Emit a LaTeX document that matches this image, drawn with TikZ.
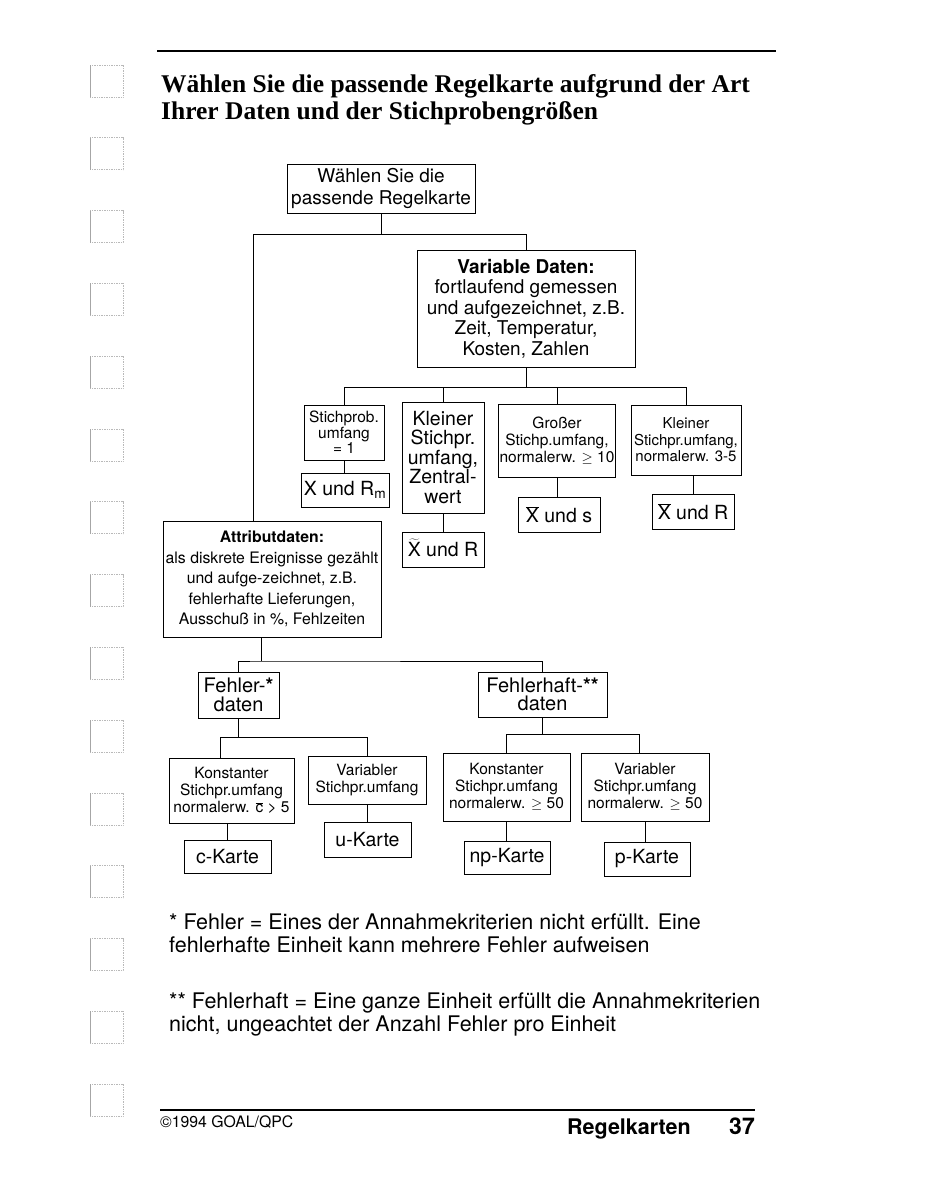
\documentclass[tikz,border=0pt]{standalone}
\usepackage{fontspec}
\setmainfont{TeX Gyre Heros}
\newfontfamily\titlefont{Liberation Serif}
\usetikzlibrary{calc}

\newcommand{\fs}[2]{\fontsize{#1}{#2}\selectfont}
\newcommand{\xq}{$\overline{\mbox{X}}$}
\newcommand{\xt}{\smash{$\widetilde{\mbox{X}}$}}
\newcommand{\stern}{\textbf{*}}

\tikzset{
  box/.style={draw, line width=1pt, align=center, inner sep=1pt},
  res/.style={box, font=\fs{19.5}{20}},
  link/.style={line width=0.9pt},
  punch/.style={gray!55, line width=0.7pt, densely dotted}
}

\begin{document}
\begin{tikzpicture}[x=1pt,y=-1pt]
\useasboundingbox (0,0) rectangle (927,1200);

% Lochrand
\foreach \i in {0,...,14} {
  \draw[punch] (90,{65+72.8*\i}) rectangle ++(33,32);
  \draw[gray!70, line width=0.8pt] (90,{65+72.8*\i}) -- ++(0,32);
}

% Kopf
\draw[line width=1.2pt] (157,51) -- (776,51);
\node[anchor=base west, inner sep=0pt, font=\titlefont\bfseries\fs{25.5}{27}] (titelA) at (161,92) {Wählen Sie die passende Regelkarte aufgrund der Art};
\node[anchor=base west, inner sep=0pt, font=\titlefont\bfseries\fs{25.5}{27}] (titelB) at (161,119) {Ihrer Daten und der Stichprobengrößen};

% Boxen
\node[box, minimum width=188, minimum height=49, font=\fs{19}{21.5}] (top) at (381,188.5) {Wählen Sie die\\passende Regelkarte};
\node[box, minimum width=218, minimum height=117, font=\fs{19}{20.5}] (var) at (526,308.5) {\textbf{Variable Daten:}\\fortlaufend gemessen\\und aufgezeichnet, z.B.\\Zeit, Temperatur,\\Kosten, Zahlen};

\node[box, minimum width=80, minimum height=55, font=\fs{15.5}{15.5}] (stichA) at (344,432.5) {Stichprob.\\umfang\\= 1};
\node[box, minimum width=82, minimum height=111, font=\fs{19.5}{19.5}] (kleinA) at (443,457.5) {Kleiner\\Stichpr.\\umfang,\\Zentral-\\wert};
\node[box, minimum width=116, minimum height=73, font=\fs{15.5}{17}] (gross) at (557,440.5) {Großer\\Stichp.umfang,\\normalerw. $\geq$ 10};
\node[box, minimum width=110, minimum height=70, font=\fs{15}{16.5}] (kleinB) at (686,440) {Kleiner\\Stichpr.umfang,\\normalerw. 3-5};

\node[res, minimum width=88, minimum height=34] (xrm) at (345,490) {X und R\textsubscript{m}};
\node[res, minimum width=82, minimum height=35] (xtr) at (443,549.5) {\xt{} und R};
\node[res, minimum width=82, minimum height=35] (xbs) at (559,514.5) {\xq{} und s};
\node[res, minimum width=82, minimum height=35] (xbr) at (693,511.5) {\xq{} und R};

\node[box, minimum width=218, minimum height=116, font=\fs{15.8}{20.4}] (attr) at (272,579) {\textbf{Attributdaten:}\\als diskrete Ereignisse gezählt\\und aufge-zeichnet, z.B.\\fehlerhafte Lieferungen,\\Ausschuß in~\%, Fehlzeiten};

\node[box, minimum width=81, minimum height=46, font=\fs{20}{18.5}] (fehler) at (238.5,695) {Fehler-\stern\\daten};
\node[box, minimum width=129, minimum height=45, font=\fs{20}{18.5}] (fehlerhaft) at (542.5,694.5) {Fehlerhaft-\stern\stern\\daten};

\node[box, minimum width=125, minimum height=65, font=\fs{15.5}{17}] (konstA) at (231.5,790.5) {Konstanter\\Stichpr.umfang\\normalerw. $\overline{\mbox{c}}$ > 5};
\node[box, minimum width=118, minimum height=48, font=\fs{15.5}{17}] (varA) at (367,780) {Variabler\\Stichpr.umfang};
\node[box, minimum width=127, minimum height=68, font=\fs{15.5}{17}] (konstB) at (506.5,787) {Konstanter\\Stichpr.umfang\\normalerw. $\geq$ 50};
\node[box, minimum width=128, minimum height=68, font=\fs{15.5}{17}] (varB) at (645,787) {Variabler\\Stichpr.umfang\\normalerw. $\geq$ 50};

\node[res, minimum width=87, minimum height=33] (ckarte) at (227.5,856.5) {c-Karte};
\node[res, minimum width=87, minimum height=35] (ukarte) at (367.5,839.5) {u-Karte};
\node[res, minimum width=86, minimum height=33] (npkarte) at (507,857.5) {np-Karte};
\node[res, minimum width=86, minimum height=34] (pkarte) at (647,859) {p-Karte};

% Verbindungen
\coordinate (ab) at (253,234);
\draw[link] (top.south) |- (ab) -- (ab |- attr.north);
\draw[link] (top.south) |- (var.north |- ab) -- (var.north);

\coordinate (vb) at (0,387);
\foreach \n in {stichA,kleinA,gross,kleinB}
  \draw[link] (var.south) |- (\n.north |- vb) -- (\n.north);

\draw[link] (stichA.south) -- (stichA.south |- xrm.north);
\draw[link] (kleinA.south) -- (kleinA.south |- xtr.north);
\draw[link] (gross.south) -- (gross.south |- xbs.north);
\draw[link] (xbr.north |- kleinB.south) -- (xbr.north);

\coordinate (fb0) at (261,661);
\draw[link] (fb0 |- attr.south) -- (fb0);
\draw[link] (fehler.north) |- (fb0) -| (fehlerhaft.north);

\coordinate (fb1) at (220,737);
\draw[link] (fehler.south) |- (fb1) -- (fb1 |- konstA.north);
\draw[link] (fehler.south) |- (varA.north |- fb1) -- (varA.north);

\coordinate (fb2) at (639,734);
\draw[link] (fehlerhaft.south) |- (konstB.north |- fb2) -- (konstB.north);
\draw[link] (fehlerhaft.south) |- (fb2) -- (fb2 |- varB.north);

\draw[link] (ckarte.north |- konstA.south) -- (ckarte.north);
\draw[link] (varA.south) -- (varA.south |- ukarte.north);
\draw[link] (konstB.south) -- (konstB.south |- npkarte.north);
\draw[link] (varB.south) -- (varB.south |- pkarte.north);

% Fussnoten
\node[anchor=base west, inner sep=0pt, font=\fs{21.5}{23}] (fnA1) at (169,929) {* Fehler = Eines der Annahmekriterien nicht erfüllt. Eine};
\node[anchor=base west, inner sep=0pt, font=\fs{21.5}{23}] (fnA2) at (169,952) {fehlerhafte Einheit kann mehrere Fehler aufweisen};
\node[anchor=base west, inner sep=0pt, font=\fs{21.5}{23}] (fnB1) at (169,1008) {** Fehlerhaft = Eine ganze Einheit erfüllt die Annahmekriterien};
\node[anchor=base west, inner sep=0pt, font=\fs{21.5}{23}] (fnB2) at (169,1031) {nicht, ungeachtet der Anzahl Fehler pro Einheit};

% Fuss
\draw[line width=1.1pt] (160,1110) -- (755,1110);
\node[anchor=base west, inner sep=0pt, font=\fs{15.8}{18}] (copy) at (160,1127) {\textcopyright1994 GOAL/QPC};
\node[anchor=base east, inner sep=0pt, font=\bfseries\fs{21.5}{24}] (rubrik) at (691,1134) {Regelkarten};
\node[anchor=base east, inner sep=0pt, font=\bfseries\fs{23}{24}] (seite) at (755,1134) {37};
\end{tikzpicture}
\end{document}
